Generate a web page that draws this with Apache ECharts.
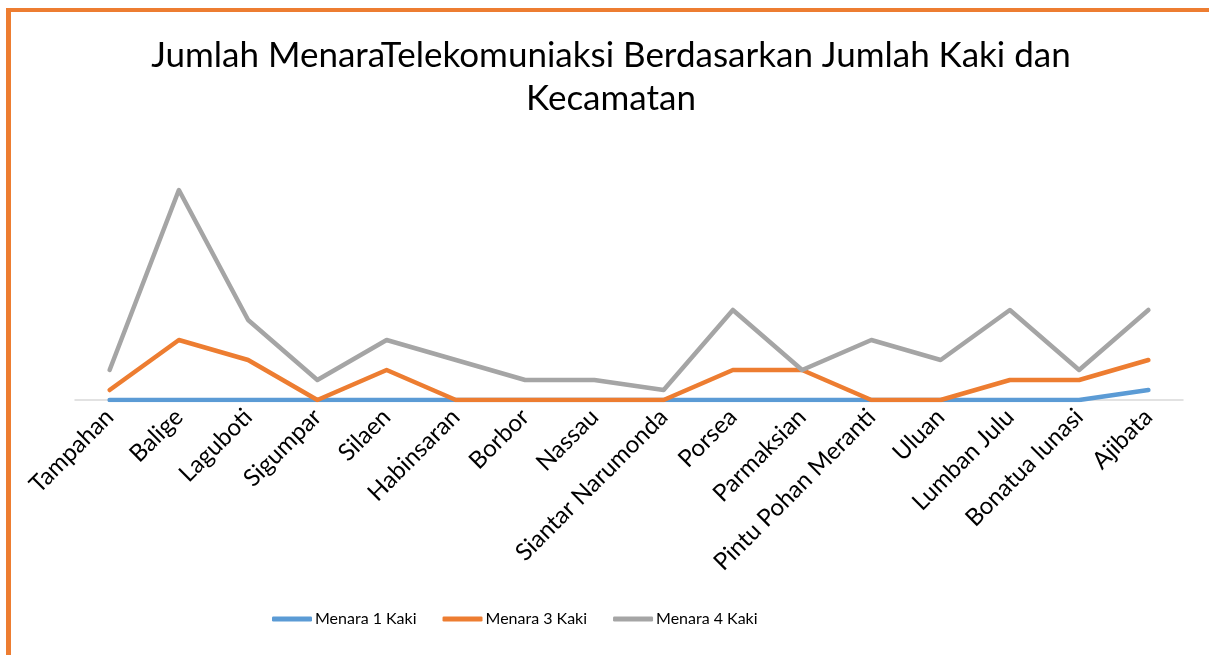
<!DOCTYPE html>
<html>
<head>
<meta charset="utf-8">
<script src="https://cdn.jsdelivr.net/npm/echarts@6/dist/echarts.min.js"></script>
<style>
html,body{margin:0;padding:0;background:#fff;}
#chart{width:1209px;height:655px;}
</style>
</head>
<body>
<div id="chart"></div>
<script>
var categories = ["Tampahan","Balige","Laguboti","Sigumpar","Silaen","Habinsaran","Borbor","Nassau","Siantar Narumonda","Porsea","Parmaksian","Pintu Pohan Meranti","Uluan","Lumban Julu","Bonatua lunasi","Ajibata"];
var menara1 = [0,0,0,0,0,0,0,0,0,0,0,0,0,0,0,1];
var menara3 = [1,6,4,0,3,0,0,0,0,3,3,0,0,2,2,4];
var menara4 = [3,21,8,2,6,4,2,2,1,9,3,6,4,9,3,9];
var seriesNames = ["Menara 1 Kaki","Menara 3 Kaki","Menara 4 Kaki"];
var colors = ["#5B9BD5","#ED7D31","#A5A5A5"];

var chart = echarts.init(document.getElementById('chart'), null, {renderer:'canvas'});
var font = 'Lato';
function mk(name, data, color){
  return {
    name: name, type: 'line', data: data, symbol: 'none',
    lineStyle: {color: color, width: 4.5, cap: 'round', join: 'round'},
    itemStyle: {color: color},
    emphasis: {disabled: true}
  };
}
chart.setOption({
  animation: false,
  backgroundColor: '#fff',
  title: {
    text: 'Jumlah MenaraTelekomuniaksi Berdasarkan Jumlah Kaki dan\nKecamatan',
    left: 606, textAlign: 'center', top: 29,
    textStyle: {fontFamily: font, fontSize: 35, fontWeight: 'normal', color: '#000', lineHeight: 43}
  },
  legend: {
    top: 611, left: 272, padding: 0,
    icon: 'roundRect',
    itemWidth: 40, itemHeight: 5, itemGap: 26,
    textStyle: {fontFamily: font, fontSize: 16, color: '#000', padding: [0,0,0,-2]},
    data: seriesNames
  },
  grid: {left: 75, right: 26, top: 150, bottom: 255, containLabel: false},
  xAxis: {
    type: 'category', data: categories, boundaryGap: true,
    axisLine: {lineStyle: {color: '#D9D9D9', width: 1.5}},
    axisTick: {show: false},
    axisLabel: {interval: 0, rotate: 45, margin: 13, fontFamily: font, fontSize: 24, color: '#000'}
  },
  yAxis: {
    type: 'value', min: 0, max: 25, show: false,
    splitLine: {show: false}
  },
  series: [
    mk(seriesNames[0], menara1, colors[0]),
    mk(seriesNames[1], menara3, colors[1]),
    mk(seriesNames[2], menara4, colors[2])
  ],
  graphic: [
    {type: 'rect', shape: {x: 6, y: 8, width: 1203, height: 4}, style: {fill: '#ED7D31'}, silent: true},
    {type: 'rect', shape: {x: 6, y: 8, width: 5, height: 647}, style: {fill: '#ED7D31'}, silent: true}
  ]
});
</script>
</body>
</html>
